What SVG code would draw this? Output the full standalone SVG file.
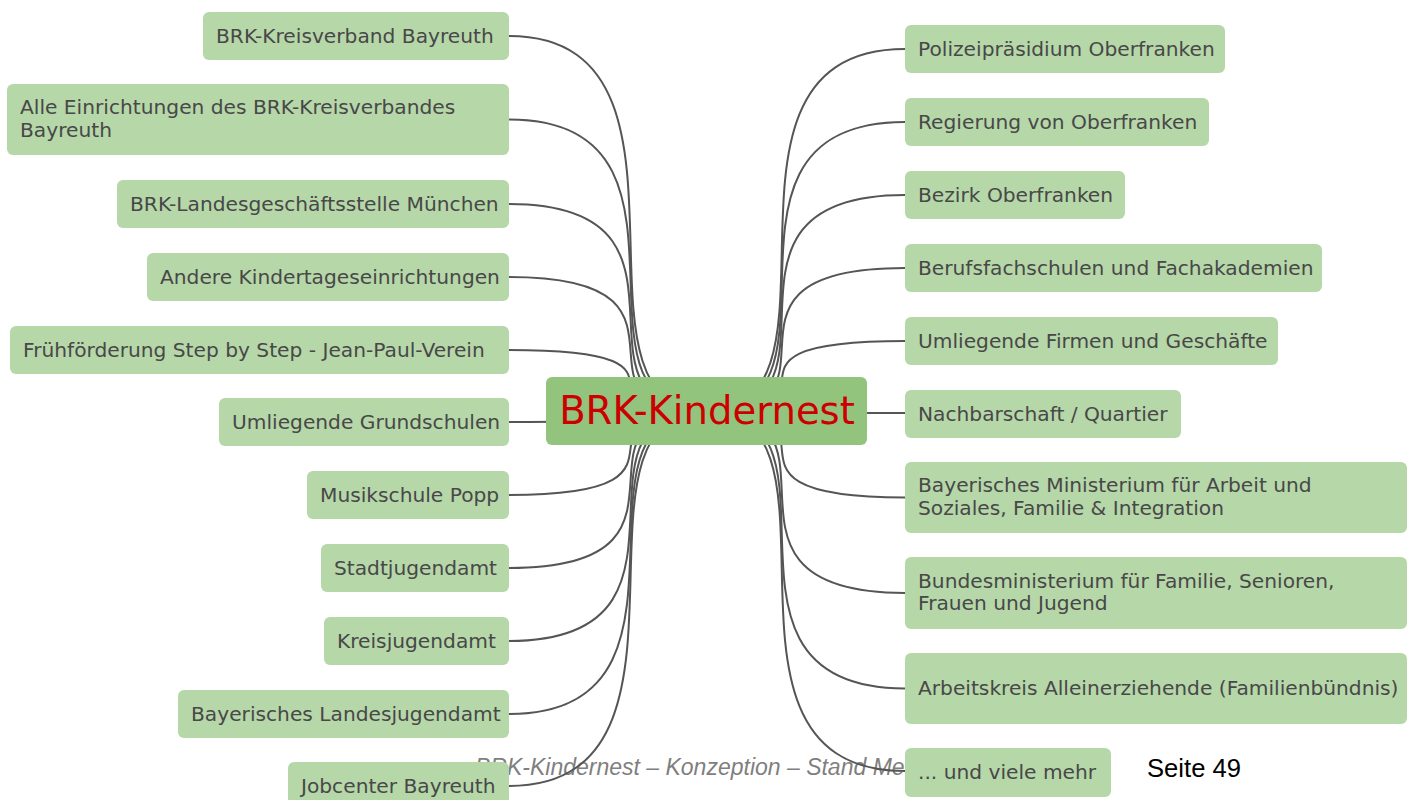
<svg xmlns="http://www.w3.org/2000/svg" width="1411" height="800" viewBox="0 0 1411 800">
  <style>
    .node rect { fill: #b6d7a8; }
    .node text { font-family: "DejaVu Sans", Verdana, sans-serif; font-size: 20.2px; fill: #484848; }
    #center rect { fill: #93c47d; }
    #center text { font-family: "DejaVu Sans", Verdana, sans-serif; font-size: 38.6px; fill: #cc0000; text-anchor: middle; }
    #connectors path { fill: none; stroke: #555555; stroke-width: 2; }
    .footer { font-family: "Liberation Sans", Arial, sans-serif; }
  </style>

  <rect x="0" y="0" width="1411" height="800" fill="#ffffff"/>

  <!-- page footer -->
  <text class="footer" x="475" y="775" font-size="23" font-style="italic" fill="#7f7f7f">BRK-Kindernest – Konzeption – Stand Me</text>
  <text class="footer" x="1147" y="777" font-size="25.6" fill="#000000" textLength="94">Seite 49</text>

  <!-- curved links from the central topic to every branch -->
  <g id="connectors">
    <path d="M509,36 C724,36 551,411 706,411"/>
    <path d="M509,119.5 C724,119.5 551,411 706,411"/>
    <path d="M509,204 C724,204 551,411 706,411"/>
    <path d="M509,277 C724,277 551,411 706,411"/>
    <path d="M509,350 C724,350 551,411 706,411"/>
    <path d="M509,422 C724,422 551,411 706,411"/>
    <path d="M509,495 C724,495 551,411 706,411"/>
    <path d="M509,568 C724,568 551,411 706,411"/>
    <path d="M509,641 C724,641 551,411 706,411"/>
    <path d="M509,714 C724,714 551,411 706,411"/>
    <path d="M509,786 C724,786 551,411 706,411"/>
    <path d="M905,49 C685,49 864,411 706,411"/>
    <path d="M905,122 C685,122 864,411 706,411"/>
    <path d="M905,195 C685,195 864,411 706,411"/>
    <path d="M905,268 C685,268 864,411 706,411"/>
    <path d="M905,341 C685,341 864,411 706,411"/>
    <path d="M905,413 C685,413 864,411 706,411"/>
    <path d="M905,497.5 C685,497.5 864,411 706,411"/>
    <path d="M905,593 C685,593 864,411 706,411"/>
    <path d="M905,688.5 C685,688.5 864,411 706,411"/>
    <path d="M905,771 C685,771 864,411 706,411"/>
  </g>

  <!-- central topic -->
  <g id="center">
    <rect x="546" y="377" width="321" height="68" rx="6"/>
    <text x="707" y="424">BRK-Kindernest</text>
  </g>

  <!-- left branches -->
  <g id="l1" class="node"><rect x="203" y="12" width="306" height="48" rx="6"/><text x="216" y="43">BRK-Kreisverband Bayreuth</text></g>
  <g id="l2" class="node"><rect x="7" y="84" width="502" height="71" rx="6"/><text x="20" y="114">Alle Einrichtungen des BRK-Kreisverbandes</text><text x="20" y="136.5">Bayreuth</text></g>
  <g id="l3" class="node"><rect x="117" y="180" width="392" height="48" rx="6"/><text x="130" y="211">BRK-Landesgeschäftsstelle München</text></g>
  <g id="l4" class="node"><rect x="147" y="253" width="362" height="48" rx="6"/><text x="160" y="284">Andere Kindertageseinrichtungen</text></g>
  <g id="l5" class="node"><rect x="10" y="326" width="499" height="48" rx="6"/><text x="23" y="357">Frühförderung Step by Step - Jean-Paul-Verein</text></g>
  <g id="l6" class="node"><rect x="219" y="398" width="290" height="48" rx="6"/><text x="232" y="429">Umliegende Grundschulen</text></g>
  <g id="l7" class="node"><rect x="307" y="471" width="202" height="48" rx="6"/><text x="320" y="502">Musikschule Popp</text></g>
  <g id="l8" class="node"><rect x="321" y="544" width="188" height="48" rx="6"/><text x="334" y="575">Stadtjugendamt</text></g>
  <g id="l9" class="node"><rect x="324" y="617" width="185" height="48" rx="6"/><text x="337" y="648">Kreisjugendamt</text></g>
  <g id="l10" class="node"><rect x="178" y="690" width="331" height="48" rx="6"/><text x="191" y="721">Bayerisches Landesjugendamt</text></g>
  <g id="l11" class="node"><rect x="288" y="762" width="221" height="48" rx="6"/><text x="301" y="793">Jobcenter Bayreuth</text></g>

  <!-- right branches -->
  <g id="r1" class="node"><rect x="905" y="25" width="320" height="48" rx="6"/><text x="918" y="56">Polizeipräsidium Oberfranken</text></g>
  <g id="r2" class="node"><rect x="905" y="98" width="304" height="48" rx="6"/><text x="918" y="129">Regierung von Oberfranken</text></g>
  <g id="r3" class="node"><rect x="905" y="171" width="220" height="48" rx="6"/><text x="918" y="202">Bezirk Oberfranken</text></g>
  <g id="r4" class="node"><rect x="905" y="244" width="417" height="48" rx="6"/><text x="918" y="275">Berufsfachschulen und Fachakademien</text></g>
  <g id="r5" class="node"><rect x="905" y="317" width="373" height="48" rx="6"/><text x="918" y="348">Umliegende Firmen und Geschäfte</text></g>
  <g id="r6" class="node"><rect x="905" y="390" width="276" height="48" rx="6"/><text x="918" y="421">Nachbarschaft / Quartier</text></g>
  <g id="r7" class="node"><rect x="905" y="462" width="502" height="71" rx="6"/><text x="918" y="492">Bayerisches Ministerium für Arbeit und</text><text x="918" y="514.5">Soziales, Familie &amp; Integration</text></g>
  <g id="r8" class="node"><rect x="905" y="557" width="502" height="72" rx="6"/><text x="918" y="587.5">Bundesministerium für Familie, Senioren,</text><text x="918" y="610">Frauen und Jugend</text></g>
  <g id="r9" class="node"><rect x="905" y="653" width="502" height="71" rx="6"/><text x="918" y="695">Arbeitskreis Alleinerziehende (Familienbündnis)</text></g>
  <g id="r10" class="node"><rect x="905" y="748" width="206" height="49" rx="6"/><text x="918" y="779">... und viele mehr</text></g>
</svg>
